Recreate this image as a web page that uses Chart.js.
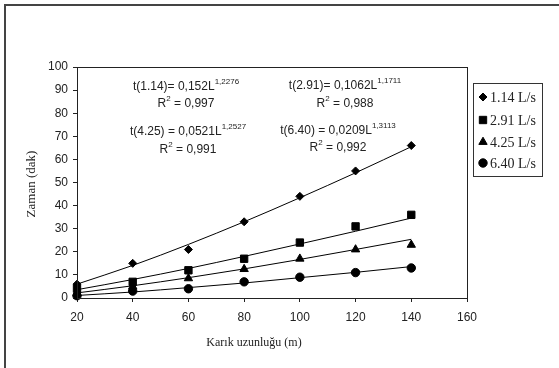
<!DOCTYPE html>
<html>
<head>
<meta charset="utf-8">
<script src="https://cdn.jsdelivr.net/npm/chart.js@4/dist/chart.umd.min.js"></script>
<style>
    body { margin: 0; background: #fff; }
    #wrap { width: 559px; height: 368px; }
</style>
</head>
<body>
<div id="wrap"><canvas id="chart" width="559" height="368"></canvas></div>
<script>
const lengths = [20, 40, 60, 80, 100, 120, 140];

// measured times (dak)
const q114 = [6, 15, 21, 33, 44, 55, 66];
const q291 = [4, 7, 12, 17, 24, 31, 36];
const q425 = [2, 5, 8.5, 12.5, 17, 21, 23];
const q640 = [1, 3, 4, 7, 9, 11, 13];

// power trend lines, values read at each length
const fit114 = [6.0, 14.1, 23.2, 33.0, 43.4, 54.2, 65.5];
const fit291 = [3.6, 8.0, 12.8, 18.0, 23.4, 28.9, 34.6];
const fit425 = [2.2, 5.3, 8.8, 12.6, 16.7, 21.0, 25.4];
const fit640 = [1.1, 2.6, 4.5, 6.5, 8.8, 11.1, 13.6];

const seriesNames = ['1.14 L/s', '2.91 L/s', '4.25 L/s', '6.40 L/s'];
const markers = ['rectRot', 'rect', 'triangle', 'circle'];
const markerSizes = [4, 5.2, 4.8, 4.2];

const eqTexts = ['t(1.14)= 0,152L', 't(2.91)= 0,1062L', 't(4.25) = 0,0521L', 't(6.40) = 0,0209L'];
const eqPowers = ['1,2276', '1,1711', '1,2527', '1,3113'];
const r2Values = ['0,997', '0,988', '0,991', '0,992'];

const xTitle = 'Karık uzunluğu (m)';
const yTitle = 'Zaman (dak)';

const sans = '"Liberation Sans", Arial, sans-serif';
const serif = '"Liberation Serif", "Times New Roman", serif';

function points(values) {
    return lengths.map((x, i) => ({ x, y: values[i] }));
}

const measured = [q114, q291, q425, q640];
const fits = [fit114, fit291, fit425, fit640];

const datasets = [];
fits.forEach((fit, i) => {
    datasets.push({
        label: 'fit ' + seriesNames[i],
        data: points(fit),
        borderColor: '#000',
        borderWidth: 1,
        pointRadius: 0,
        showLine: true,
        cubicInterpolationMode: 'monotone',
        clip: false
    });
});
measured.forEach((vals, i) => {
    datasets.push({
        label: seriesNames[i],
        data: points(vals),
        showLine: false,
        pointStyle: markers[i],
        pointRadius: markerSizes[i],
        backgroundColor: '#000',
        borderColor: '#000',
        borderWidth: 1,
        clip: false
    });
});

const framePlugin = {
    id: 'frame',
    beforeDraw(chart) {
        const ctx = chart.ctx;
        ctx.save();
        ctx.fillStyle = '#fff';
        ctx.fillRect(0, 0, chart.width, chart.height);
        ctx.strokeStyle = '#444';
        ctx.lineWidth = 2;
        ctx.beginPath();
        ctx.moveTo(5, chart.height);
        ctx.lineTo(5, 5);
        ctx.lineTo(chart.width, 5);
        ctx.stroke();
        ctx.restore();
    },
    afterDraw(chart) {
        const ctx = chart.ctx;
        const a = chart.chartArea;
        ctx.save();
        ctx.strokeStyle = '#222';
        ctx.lineWidth = 1;
        ctx.strokeRect(Math.round(a.left) + 0.5, Math.round(a.top) + 0.5,
            Math.round(a.right - a.left), Math.round(a.bottom - a.top));

        // axis titles
        ctx.fillStyle = '#222';
        ctx.font = '12px ' + serif;
        ctx.textAlign = 'center';
        ctx.textBaseline = 'middle';
        ctx.fillText(xTitle, 254, 343);
        ctx.save();
        ctx.translate(32, 184);
        ctx.rotate(-Math.PI / 2);
        ctx.font = '13px ' + serif;
        ctx.fillText(yTitle, 0, 0);
        ctx.restore();

        // equations
        const spots = [[186, 87, 104], [345, 86, 104], [188, 132, 150], [338, 131, 147.5]];
        spots.forEach(([cx, y1, y2], i) => {
            drawSup(ctx, eqTexts[i], eqPowers[i], '', cx, y1);
            drawSup(ctx, 'R', '2', ' = ' + r2Values[i], cx, y2);
        });

        // legend
        ctx.strokeStyle = '#333';
        ctx.strokeRect(473.5, 83.5, 69, 93);
        const rows = [97, 120, 142, 163];
        ctx.font = '14px ' + serif;
        ctx.textAlign = 'left';
        ctx.fillStyle = '#000';
        rows.forEach((y, i) => {
            ctx.fillStyle = '#000';
            ctx.strokeStyle = '#000';
            Chart.helpers.drawPoint(ctx, { pointStyle: markers[i], radius: markerSizes[i], borderWidth: 1 }, 483, y);
            ctx.fillStyle = '#222';
            ctx.fillText(seriesNames[i], 490, y + 1);
        });
        ctx.restore();
    }
};

function drawSup(ctx, base, sup, tail, cx, y) {
    const big = '12px ' + sans;
    const small = '8px ' + sans;
    ctx.font = big;
    const wb = ctx.measureText(base).width;
    const wt = ctx.measureText(tail).width;
    ctx.font = small;
    const ws = ctx.measureText(sup).width;
    let x = cx - (wb + ws + wt) / 2;
    ctx.fillStyle = '#222';
    ctx.textAlign = 'left';
    ctx.textBaseline = 'middle';
    ctx.font = big;
    ctx.fillText(base, x, y);
    x += wb;
    ctx.font = small;
    ctx.fillText(sup, x, y - 5);
    x += ws;
    ctx.font = big;
    ctx.fillText(tail, x, y);
}

new Chart(document.getElementById('chart'), {
    type: 'scatter',
    data: { datasets },
    plugins: [framePlugin],
    options: {
        responsive: false,
        animation: false,
        layout: { padding: { top: 67, right: 92, left: 0, bottom: 0 } },
        plugins: {
            legend: { display: false },
            tooltip: { enabled: false }
        },
        scales: {
            x: {
                type: 'linear',
                min: 20,
                max: 160,
                afterFit(scale) { scale.height = 70; },
                ticks: {
                    stepSize: 20,
                    color: '#222',
                    padding: 8,
                    maxRotation: 0,
                    font: { family: sans, size: 12 }
                },
                grid: { drawOnChartArea: false, tickLength: 4, color: '#222' },
                border: { color: '#222' }
            },
            y: {
                min: 0,
                max: 100,
                afterFit(scale) { scale.width = 77; },
                ticks: {
                    stepSize: 10,
                    color: '#222',
                    padding: 5,
                    font: { family: sans, size: 12 }
                },
                grid: { drawOnChartArea: false, tickLength: 4, color: '#222' },
                border: { color: '#222' }
            }
        }
    }
});
</script>
</body>
</html>
